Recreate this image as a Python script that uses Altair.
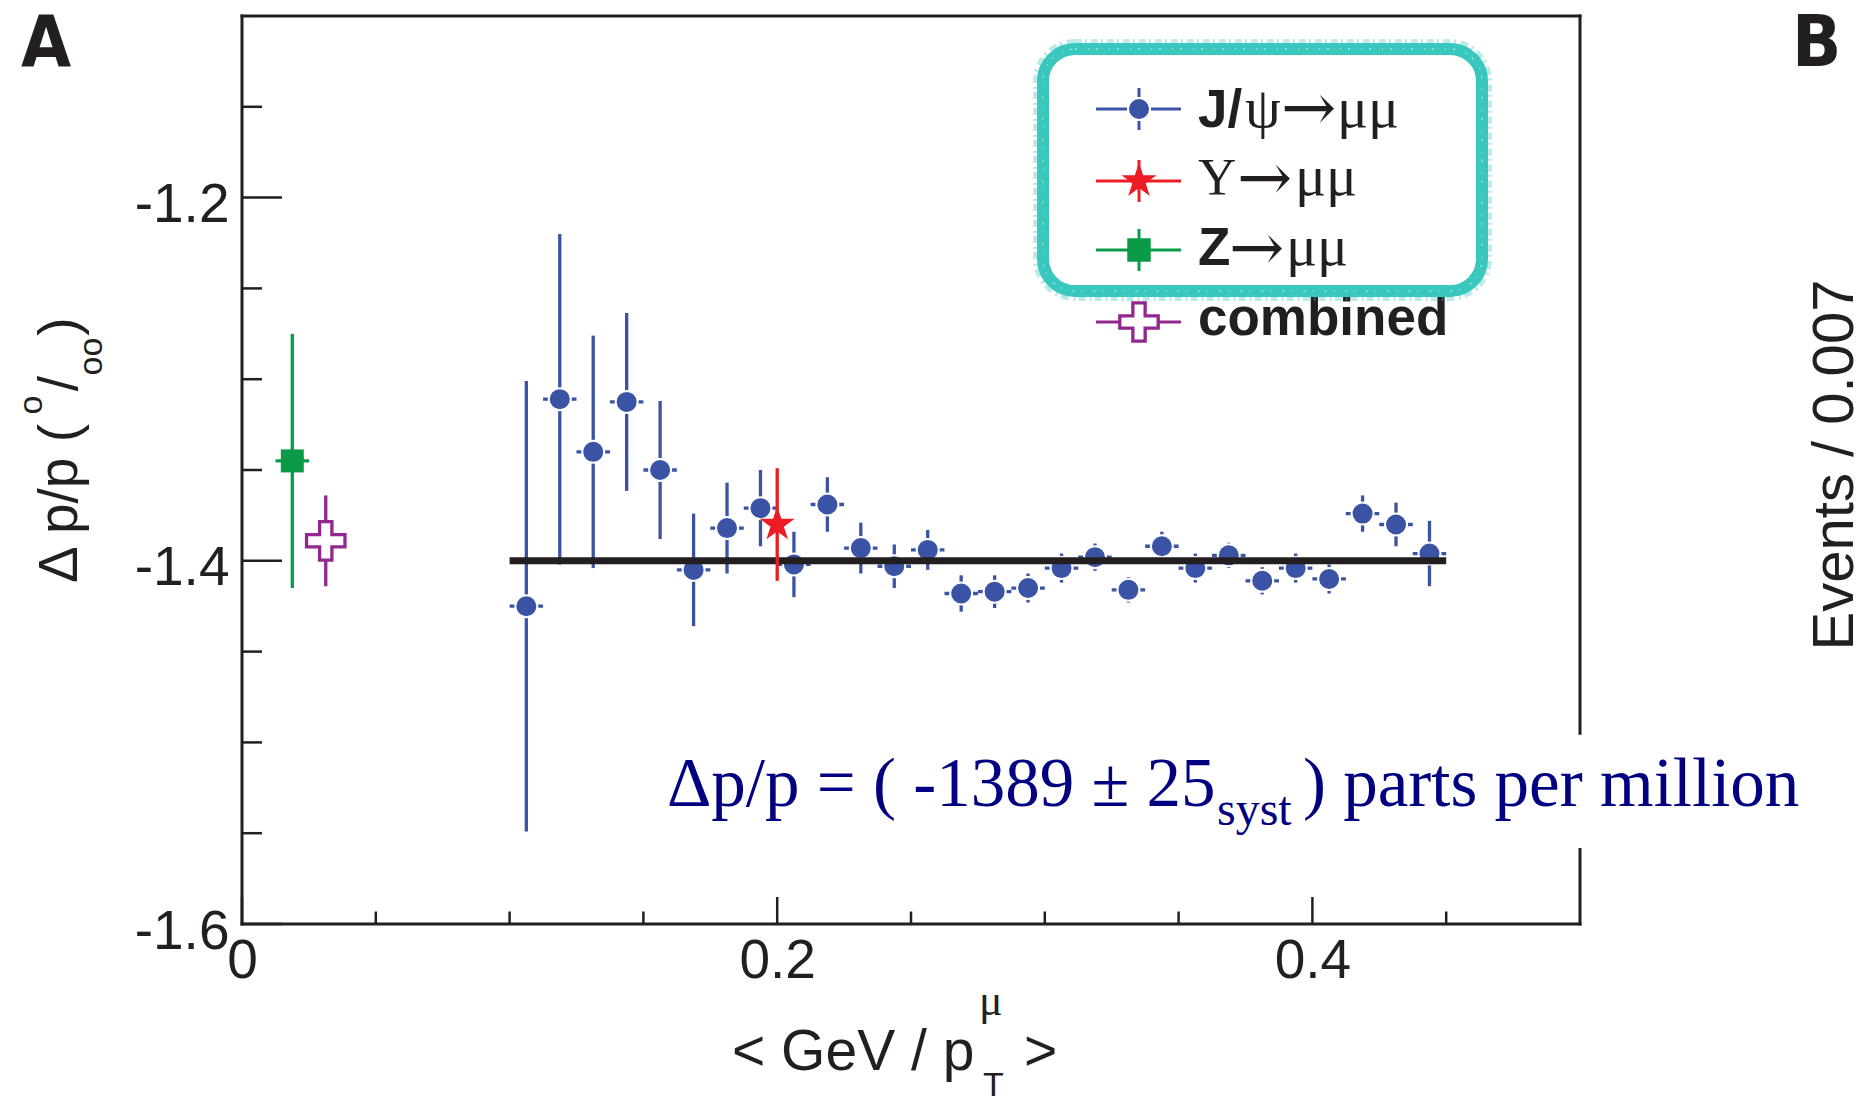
import altair as alt
import pandas as pd

# ---------------------------------------------------------------- data
# J/psi -> mu mu : bins of <GeV/pT> (0.0125 wide, 0.10 .. 0.45)
jpsi_x = [0.10625, 0.11875, 0.13125, 0.14375, 0.15625, 0.16875, 0.18125,
          0.19375, 0.20625, 0.21875, 0.23125, 0.24375, 0.25625, 0.26875,
          0.28125, 0.29375, 0.30625, 0.31875, 0.33125, 0.34375, 0.35625,
          0.36875, 0.38125, 0.39375, 0.40625, 0.41875, 0.43125, 0.44375]
jpsi_y = [-1.425, -1.311, -1.340, -1.3125, -1.350, -1.405, -1.382,
          -1.371, -1.402, -1.369, -1.393, -1.403, -1.394, -1.418,
          -1.417, -1.415, -1.404, -1.398, -1.416, -1.392, -1.404,
          -1.397, -1.411, -1.404, -1.410, -1.374, -1.380, -1.396]
jpsi_err = [0.124, 0.091, 0.064, 0.049, 0.038, 0.031, 0.025,
            0.021, 0.018, 0.015, 0.014, 0.012, 0.011, 0.010,
            0.009, 0.008, 0.008, 0.0075, 0.007, 0.008, 0.008,
            0.007, 0.0075, 0.008, 0.008, 0.010, 0.012, 0.018]
jpsi_half_bin = 0.00625

# Upsilon -> mu mu
ups_x = [0.200]
ups_y = [-1.380]
ups_err = [0.031]

# Z -> mu mu
z_x = [0.0188]
z_y = [-1.345]
z_err = [0.070]
z_xerr = [0.0063]

# combined result
comb_x = [0.0313]
comb_y = [-1.389]
comb_err = [0.025]

# fitted level across the J/psi range
fit_x = [0.10, 0.45]
fit_y = [-1.400]

# axes
x_domain = [0.0, 0.5]
y_domain = [-1.6, -1.1]
x_major = [0.0, 0.2, 0.4]
x_minor = [0.05, 0.10, 0.15, 0.25, 0.30, 0.35, 0.45]
y_major = [-1.6, -1.4, -1.2]
y_minor = [-1.55, -1.50, -1.45, -1.35, -1.30, -1.25, -1.15]
frame_gap = [-1.495, -1.559]   # right edge left open behind the result text

# ---------------------------------------------------------------- style
L, T = 242, 16            # plot origin on the page
W, H = 1338, 908          # plot size
PAGE_W, PAGE_H = 1864, 1103

INK = "#231F20"
BLUE = "#3A53A4"
RED = "#ED1C24"
GREEN = "#0B9A48"
PURPLE = "#92278F"
NAVY = "#000080"
TEAL = "#3AC7BD"
SANS = "Liberation Sans, Arial, Helvetica, sans-serif"
SERIF = "Liberation Serif, Times New Roman, serif"
ARROW = "DejaVu Serif, serif"
NARROW = "Liberation Sans Narrow, DejaVu Sans Condensed, sans-serif"

STAR = ("M0,-1 L0.2245,-0.309 L0.951,-0.309 L0.363,0.118 L0.588,0.809 "
        "L0,0.382 L-0.588,0.809 L-0.363,0.118 L-0.951,-0.309 L-0.2245,-0.309 Z")
CROSS = ("M-1,-0.32 L-0.32,-0.32 L-0.32,-1 L0.32,-1 L0.32,-0.32 L1,-0.32 "
         "L1,0.32 L0.32,0.32 L0.32,1 L-0.32,1 L-0.32,0.32 L-1,0.32 Z")

xscale = alt.Scale(domain=x_domain, nice=False, zero=False)
yscale = alt.Scale(domain=y_domain, nice=False, zero=False)

xaxis = alt.Axis(values=x_major, title=None, ticks=False, tickSize=0, domain=False, grid=False,
                 labelExpr="datum.value == 0 ? '0' : format(datum.value, '.1f')",
                 labelFont=SANS, labelFontSize=55, labelColor=INK,
                 labelPadding=10, labelFlush=False, labelOverlap=False)
yaxis = alt.Axis(values=y_major, title=None, ticks=False, tickSize=0, domain=False, grid=False,
                 labelExpr="replace(format(datum.value, '.1f'), '\u2212', '-')",
                 labelFont=SANS, labelFontSize=55, labelColor=INK,
                 labelPadding=13, labelOffset=7, labelFlush=False, labelOverlap=False)


def X(f):
    return alt.X(f, type="quantitative", scale=xscale, axis=xaxis)


def Y(f):
    return alt.Y(f, type="quantitative", scale=yscale, axis=yaxis)


one = pd.DataFrame({"k": [0]})


def label(text, px, py, size, font=SANS, weight="normal", color=INK, align="left",
          angle=0, baseline="alphabetic"):
    return alt.Chart(one).mark_text(
        text=text, font=font, fontSize=size, fontWeight=weight, color=color,
        align=align, baseline=baseline, angle=angle
    ).encode(x=alt.value(px - L), y=alt.value(py - T))


def box(x0, x1, y0, y1, **style):
    return alt.Chart(one).mark_rect(fillOpacity=0, **style).encode(
        x=alt.value(x0 - L), x2=alt.value(x1 - L), y=alt.value(y0 - T), y2=alt.value(y1 - T))


layers = []

# ---------------------------------------------------------------- frame and ticks
frame = pd.DataFrame({
    "x": [0.0, 0.0, 0.0, 0.5, 0.5],
    "x2": [0.0, 0.5, 0.5, 0.5, 0.5],
    "y": [y_domain[0], y_domain[0], y_domain[1], y_domain[1], frame_gap[1]],
    "y2": [y_domain[1], y_domain[0], y_domain[1], frame_gap[0], y_domain[0]],
})
layers.append(alt.Chart(frame).mark_rule(color=INK, strokeWidth=3, strokeCap="square").encode(
    x=X("x"), x2="x2", y=Y("y"), y2="y2"))

layers.append(alt.Chart(pd.DataFrame({"v": y_minor})).mark_rule(color=INK, strokeWidth=2.5).encode(
    y=Y("v"), x=alt.value(0), x2=alt.value(20)))
layers.append(alt.Chart(pd.DataFrame({"v": y_major})).mark_rule(color=INK, strokeWidth=2.5).encode(
    y=Y("v"), x=alt.value(0), x2=alt.value(40)))
layers.append(alt.Chart(pd.DataFrame({"v": x_minor})).mark_rule(color=INK, strokeWidth=2.5).encode(
    x=X("v"), y=alt.value(H), y2=alt.value(H - 12.5)))
layers.append(alt.Chart(pd.DataFrame({"v": x_major})).mark_rule(color=INK, strokeWidth=2.5).encode(
    x=X("v"), y=alt.value(H), y2=alt.value(H - 27)))

# ---------------------------------------------------------------- J/psi points
jp = pd.DataFrame({"x": jpsi_x, "y": jpsi_y, "e": jpsi_err})
jp["lo"] = jp["y"] - jp["e"]
jp["hi"] = jp["y"] + jp["e"]
jp["xl"] = jp["x"] - jpsi_half_bin
jp["xh"] = jp["x"] + jpsi_half_bin

layers.append(alt.Chart(jp).mark_rule(color=BLUE, strokeWidth=3.3).encode(
    x=X("x"), y=Y("lo"), y2="hi"))
layers.append(alt.Chart(jp).mark_rule(color=BLUE, strokeWidth=3.3).encode(
    x=X("xl"), x2="xh", y=Y("y")))
layers.append(alt.Chart(jp).mark_point(shape="circle", filled=True, size=484, color=BLUE,
                                       stroke="white", strokeWidth=2, opacity=1).encode(
    x=X("x"), y=Y("y")))

# fitted level
fit = pd.DataFrame({"x": [fit_x[0]], "x2": [fit_x[1]], "y": fit_y})
layers.append(alt.Chart(fit).mark_rule(color=INK, strokeWidth=7).encode(
    x=X("x"), x2="x2", y=Y("y")))

# ---------------------------------------------------------------- Z
zd = pd.DataFrame({"x": z_x, "y": z_y, "e": z_err, "xe": z_xerr})
zd["lo"] = zd["y"] - zd["e"]
zd["hi"] = zd["y"] + zd["e"]
zd["xl"] = zd["x"] - zd["xe"]
zd["xh"] = zd["x"] + zd["xe"]
layers.append(alt.Chart(zd).mark_rule(color=GREEN, strokeWidth=3.3).encode(
    x=X("x"), y=Y("lo"), y2="hi"))
layers.append(alt.Chart(zd).mark_rule(color=GREEN, strokeWidth=3.3).encode(
    x=X("xl"), x2="xh", y=Y("y")))
layers.append(alt.Chart(zd).mark_point(shape="square", filled=True, size=529, color=GREEN,
                                       opacity=1).encode(x=X("x"), y=Y("y")))

# ---------------------------------------------------------------- combined
cd = pd.DataFrame({"x": comb_x, "y": comb_y, "e": comb_err})
cd["lo"] = cd["y"] - cd["e"]
cd["hi"] = cd["y"] + cd["e"]
layers.append(alt.Chart(cd).mark_rule(color=PURPLE, strokeWidth=3.3).encode(
    x=X("x"), y=Y("lo"), y2="hi"))
layers.append(alt.Chart(cd).mark_point(shape=CROSS, filled=True, fill="white", stroke=PURPLE,
                                       strokeWidth=3.3, size=1475, opacity=1).encode(
    x=X("x"), y=Y("y")))

# ---------------------------------------------------------------- Upsilon
ud = pd.DataFrame({"x": ups_x, "y": ups_y, "e": ups_err})
ud["lo"] = ud["y"] - ud["e"]
ud["hi"] = ud["y"] + ud["e"]
layers.append(alt.Chart(ud).mark_rule(color=RED, strokeWidth=3.3).encode(
    x=X("x"), y=Y("lo"), y2="hi"))
layers.append(alt.Chart(ud).mark_point(shape=STAR, filled=True, size=1354, color=RED,
                                       opacity=1).encode(x=X("x"), y=Y("y")))

# ---------------------------------------------------------------- legend
LEG_X0, LEG_X1, LEG_MX, LEG_TX = 1096, 1181, 1139, 1198
rows = [109, 181, 250, 322]
colors = [BLUE, RED, GREEN, PURPLE]
for ry, c in zip(rows, colors):
    layers.append(alt.Chart(one).mark_rule(color=c, strokeWidth=3).encode(
        x=alt.value(LEG_X0 - L), x2=alt.value(LEG_X1 - L), y=alt.value(ry - T)))
for ry, c in zip(rows[:3], colors[:3]):
    layers.append(alt.Chart(one).mark_rule(color=c, strokeWidth=3).encode(
        x=alt.value(LEG_MX - L), y=alt.value(ry - 21 - T), y2=alt.value(ry + 21 - T)))

layers.append(alt.Chart(one).mark_point(shape="circle", filled=True, size=484, color=BLUE,
                                        stroke="white", strokeWidth=2, opacity=1).encode(
    x=alt.value(LEG_MX - L), y=alt.value(rows[0] - T)))
layers.append(alt.Chart(one).mark_point(shape=STAR, filled=True, size=1354, color=RED,
                                        opacity=1).encode(
    x=alt.value(LEG_MX - L), y=alt.value(rows[1] - T)))
layers.append(alt.Chart(one).mark_point(shape="square", filled=True, size=552, color=GREEN,
                                        opacity=1).encode(
    x=alt.value(LEG_MX - L), y=alt.value(rows[2] - T)))
layers.append(alt.Chart(one).mark_point(shape=CROSS, filled=True, fill="white", stroke=PURPLE,
                                        strokeWidth=3.3, size=1475, opacity=1).encode(
    x=alt.value(LEG_MX - L), y=alt.value(rows[3] - T)))

# J/psi -> mu mu
layers.append(label("J/", LEG_TX, 127, 53, weight="bold"))
layers.append(label("ψ", 1245, 127, 57, font=SERIF))
layers.append(label("→", 1281, 110, 66, font=ARROW, baseline="middle"))
layers.append(label("μμ", 1337, 127, 58, font=SERIF))
# Upsilon -> mu mu
layers.append(label("Υ", LEG_TX, 195, 53, font=SERIF))
layers.append(label("→", 1237, 180, 66, font=ARROW, baseline="middle"))
layers.append(label("μμ", 1295, 195, 58, font=SERIF))
# Z -> mu mu
layers.append(label("Z", LEG_TX, 265, 53, weight="bold"))
layers.append(label("→", 1229, 250, 66, font=ARROW, baseline="middle"))
layers.append(label("μμ", 1286, 265, 58, font=SERIF))
# combined
layers.append(label("combined", LEG_TX, 335, 53, weight="bold"))

# hand-drawn highlight around the first three entries
layers.append(box(1041, 1484, 47, 293, stroke=TEAL, strokeWidth=16, strokeOpacity=0.35,
                  strokeDash=[7, 3, 2, 4], cornerRadius=34))
layers.append(box(1043, 1482, 49, 291, stroke=TEAL, strokeWidth=12, cornerRadius=32))
layers.append(box(1043, 1482, 49, 291, stroke="white", strokeWidth=1.4, strokeOpacity=0.55,
                  strokeDash=[2, 11, 1, 7], cornerRadius=32))

# ---------------------------------------------------------------- result text
layers.append(label("Δp/p = ( -1389 ± 25", 667, 806, 69, font=SERIF, color=NAVY))
layers.append(label("syst", 1217, 825, 48, font=SERIF, color=NAVY))
layers.append(label(") parts per million", 1303, 806, 69, font=SERIF, color=NAVY))

# ---------------------------------------------------------------- axis titles
layers.append(label("< GeV / p", 732, 1070, 57))
layers.append(label("μ", 979, 1015, 44, font=SERIF))
layers.append(label("T", 983, 1096, 34))
layers.append(label(">", 1024, 1070, 57))

layers.append(label("Δ p/p (", 77, 503.5, 55, align="center", angle=270))
layers.append(label("o", 42, 405, 34, align="center", angle=270))
layers.append(label("/", 77, 383.5, 55, align="center", angle=270))
layers.append(label("oo", 102, 356.5, 34, align="center", angle=270))
layers.append(label(")", 77, 326.5, 55, align="center", angle=270))

# ---------------------------------------------------------------- panel letters, next panel's axis title
layers.append(label("A", 21, 66, 72, font=NARROW, weight="bold"))
layers.append(label("B", 1792, 66, 72, font=NARROW, weight="bold"))
layers.append(label("Events / 0.007", 1853, 465, 58, align="center", angle=270))

chart = alt.layer(*layers).properties(
    width=W, height=H,
    autosize=alt.AutoSizeParams(type="none"),
    padding={"left": L, "top": T, "right": PAGE_W - L - W, "bottom": PAGE_H - T - H},
    background="white",
).configure_view(strokeWidth=0)

chart.save("out.html", embed_options={"renderer": "svg", "actions": False})
